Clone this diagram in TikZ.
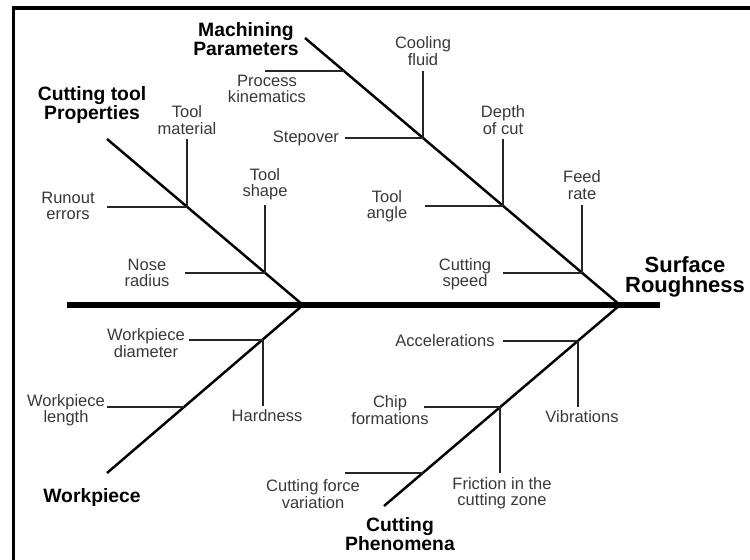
\documentclass[tikz,border=0pt]{standalone}
\usepackage{fontspec}
\setmainfont{Liberation Sans}

\begin{document}
\begin{tikzpicture}[x=0.02cm,y=-0.02cm,
  every node/.style={align=center, inner sep=0pt, outer sep=0pt},
  cause/.style={font=\fontsize{9.4}{9.3}\selectfont, text=black!78},
  group/.style={font=\fontsize{11}{10.8}\selectfont\bfseries},
  effect/.style={font=\fontsize{12.5}{11.5}\selectfont\bfseries},
  spine/.style={line width=2.9pt},
  bone/.style={line width=1.4pt},
  twig/.style={line width=0.7pt, black!85}]
\useasboundingbox (0,0) rectangle (750,560);
\draw[line width=2pt] (13.5,560) -- (13.5,8) -- (750,8);

% spine and bones
\coordinate (tail) at (67,305);
\coordinate (fin) at (660,305);
\coordinate (head) at (620,305);
\coordinate (mid) at (303,305);
\coordinate (mp) at (305,38);
\coordinate (ct) at (107,139);
\coordinate (wp) at (107,473);
\coordinate (cp) at (384,506);

\draw[spine] (tail) -- (fin);
\draw[bone] (mp) -- (head);
\draw[bone] (ct) -- (mid);
\draw[bone] (wp) -- (mid);
\draw[bone] (cp) -- (head);

% junctions on the bones
\coordinate (j1) at (344,71);
\coordinate (j2) at (423,138);
\coordinate (j3) at (503,206);
\coordinate (j4) at (582,273);
\coordinate (j5) at (187,207);
\coordinate (j6) at (265,273);
\coordinate (j7) at (263,340);
\coordinate (j8) at (184,407);
\coordinate (j9) at (578,341);
\coordinate (j10) at (500,407);
\coordinate (j11) at (423,473);

% free ends of the twigs
\coordinate (pk) at (265,71);
\coordinate (cf) at (423,71);
\coordinate (so) at (345,138);
\coordinate (dc) at (503,139);
\coordinate (ta) at (425,206);
\coordinate (fr) at (582,205);
\coordinate (cs) at (503,273);
\coordinate (tm) at (187,139);
\coordinate (re) at (107,207);
\coordinate (ts) at (265,205);
\coordinate (nr) at (185,273);
\coordinate (wd) at (189,340);
\coordinate (hd) at (263,406);
\coordinate (wl) at (107,407);
\coordinate (ac) at (503,341);
\coordinate (vb) at (578,407);
\coordinate (ch) at (424,407);
\coordinate (fz) at (500,473);
\coordinate (cv) at (345,473);

\draw[twig] (pk) -- (j1);
\draw[twig] (cf) -- (j2);
\draw[twig] (so) -- (j2);
\draw[twig] (dc) -- (j3);
\draw[twig] (ta) -- (j3);
\draw[twig] (fr) -- (j4);
\draw[twig] (cs) -- (j4);
\draw[twig] (tm) -- (j5);
\draw[twig] (re) -- (j5);
\draw[twig] (ts) -- (j6);
\draw[twig] (nr) -- (j6);
\draw[twig] (wd) -- (j7);
\draw[twig] (hd) -- (j7);
\draw[twig] (wl) -- (j8);
\draw[twig] (ac) -- (j9);
\draw[twig] (vb) -- (j9);
\draw[twig] (ch) -- (j10);
\draw[twig] (fz) -- (j10);
\draw[twig] (cv) -- (j11);

% labels
\node[effect] (surf) at (685,277) {Surface\\Roughness};
\node[group] (mach) at (246,39) {Machining\\Parameters};
\node[group] (tool) at (92,105) {Cutting tool\\Properties};
\node[group] (work) at (92,498) {Workpiece};
\node[group] (phen) at (400,534) {Cutting\\Phenomena};

\node[cause] (kin) at (267,89) {Process\\kinematics};
\node[cause] (cool) at (423,51) {Cooling\\fluid};
\node[cause, anchor=east] (step) at (339,138) {Stepover};
\node[cause] (depth) at (503,120) {Depth\\of cut};
\node[cause] (angle) at (387,206) {Tool\\angle};
\node[cause] (feed) at (582,185) {Feed\\rate};
\node[cause] (speed) at (465,274) {Cutting\\speed};
\node[cause] (mat) at (187,120) {Tool\\material};
\node[cause] (run) at (68,206) {Runout\\errors};
\node[cause] (shape) at (265,184) {Tool\\shape};
\node[cause] (nose) at (147,273) {Nose\\radius};
\node[cause] (diam) at (146,343) {Workpiece\\diameter};
\node[cause] (hard) at (267,416) {Hardness};
\node[cause] (len) at (66,410) {Workpiece\\length};
\node[cause] (acc) at (445,341) {Accelerations};
\node[cause] (vib) at (582,417) {Vibrations};
\node[cause] (chip) at (390,410) {Chip\\formations};
\node[cause] (fric) at (502,493) {Friction in the\\cutting zone};
\node[cause] (force) at (313,494) {Cutting force\\variation};
\end{tikzpicture}
\end{document}
